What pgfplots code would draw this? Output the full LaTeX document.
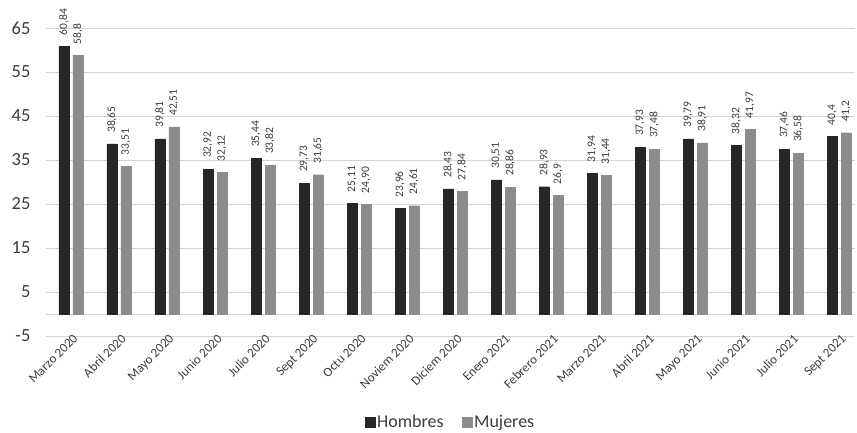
\documentclass[border=0pt]{standalone}
\usepackage{pgfplots}
\pgfplotsset{compat=1.18}
\usepackage{pgfplotstable}
\usepackage{fontspec}
\setmainfont{Carlito}
\definecolor{hom}{HTML}{262626}
\definecolor{muj}{HTML}{8C8C8C}
\definecolor{gridc}{HTML}{D4D4D4}
\definecolor{txt}{HTML}{3C3C3C}
\pgfplotstableread{
x y lab
0 60.84 60,84
1 38.65 38,65
2 39.81 39,81
3 32.92 32,92
4 35.44 35,44
5 29.73 29,73
6 25.11 25,11
7 23.96 23,96
8 28.43 28,43
9 30.51 30,51
10 28.93 28,93
11 31.94 31,94
12 37.93 37,93
13 39.79 39,79
14 38.32 38,32
15 37.46 37,46
16 40.4 40,4
}\hombres
\pgfplotstableread{
x y lab
0 58.8 58,8
1 33.51 33,51
2 42.51 42,51
3 32.12 32,12
4 33.82 33,82
5 31.65 31,65
6 24.90 24,90
7 24.61 24,61
8 27.84 27,84
9 28.86 28,86
10 26.9 26,9
11 31.44 31,44
12 37.48 37,48
13 38.91 38,91
14 41.97 41,97
15 36.58 36,58
16 41.2 41,2
}\mujeres
\begin{document}
\begin{tikzpicture}
\begin{axis}[
  at={(0,0)}, anchor=south west,
  scale only axis, width=809pt, height=308pt,
  xmin=-0.52, xmax=16.33, ymin=-5, ymax=65,
  ytick={-5,5,15,25,35,45,55,65},
  extra y ticks={0}, extra y tick labels={},
  extra y tick style={grid style={draw=gridc, line width=0.9pt}},
  ymajorgrids, grid style={draw=gridc, line width=0.8pt},
  axis line style={draw=none},
  tick style={draw=none},
  xtick={0,...,16},
  xticklabels={Marzo 2020,Abril 2020,Mayo 2020,Junio 2020,Julio 2020,Sept 2020,Octu 2020,Noviem 2020,Diciem 2020,Enero 2021,Febrero 2021,Marzo 2021,Abril 2021,Mayo 2021,Junio 2021,Julio 2021,Sept 2021},
  x tick label style={rotate=45, anchor=north east, font=\fontsize{13}{14}\selectfont, text=txt, xshift=7pt, yshift=5pt, inner sep=1pt},
  y tick label style={font=\fontsize{18.5}{19}\selectfont, text=txt, xshift=-12pt},
  /pgf/number format/assume math mode=true,
  ybar, bar width=10pt,
  clip=false,
  nodes near coords, point meta=explicit symbolic,
  every node near coord/.append style={rotate=90, anchor=west, font=\fontsize{11.5}{12}\selectfont, text=txt, inner sep=0pt, xshift=11pt},
  legend style={at={(0.5,-0.28)}, anchor=center, draw=none, legend columns=2, font=\fontsize{18}{19}\selectfont, text=txt, /tikz/every even column/.append style={column sep=16pt}},
  legend image code/.code={\fill[#1] (0pt,-5pt) rectangle (10pt,5pt);},
]
\addplot[fill=hom, draw=hom, bar shift=-7pt] table[x=x,y=y,meta=lab]{\hombres};
\addplot[fill=muj, draw=muj, bar shift=7pt] table[x=x,y=y,meta=lab]{\mujeres};
\legend{Hombres,Mujeres}
\end{axis}
\pgfresetboundingbox
\path[use as bounding box] (-46pt,-97pt) rectangle (811pt,336pt);
\end{tikzpicture}
\end{document}
